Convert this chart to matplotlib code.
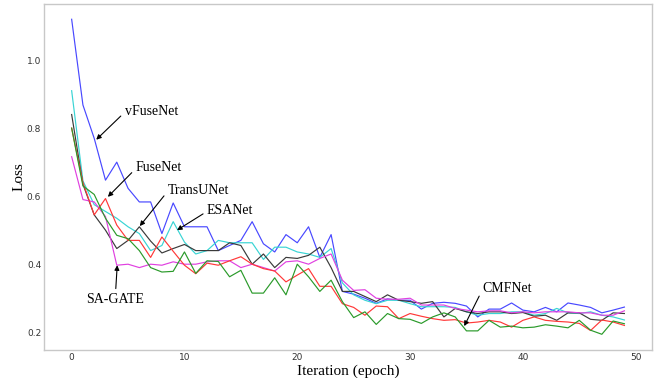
"""Training loss curves for six segmentation networks."""
import numpy as np
import matplotlib
matplotlib.use("Agg")
import matplotlib.pyplot as plt

epochs = np.arange(50)

vfusenet = [1.12, 0.868, 0.77, 0.647, 0.70, 0.623, 0.583, 0.583, 0.49, 0.58,
            0.51, 0.51, 0.51, 0.44, 0.455, 0.47, 0.525, 0.46, 0.436, 0.487,
            0.463, 0.51, 0.42, 0.487, 0.32, 0.312, 0.30, 0.285, 0.298, 0.294,
            0.294, 0.268, 0.285, 0.288, 0.285, 0.277, 0.245, 0.268, 0.268, 0.286,
            0.265, 0.26, 0.273, 0.26, 0.286, 0.28, 0.273, 0.257, 0.265, 0.274]
esanet = [0.91, 0.645, 0.575, 0.555, 0.535, 0.51, 0.49, 0.44, 0.455, 0.525,
          0.465, 0.43, 0.44, 0.47, 0.463, 0.463, 0.463, 0.414, 0.45, 0.45,
          0.436, 0.43, 0.42, 0.446, 0.345, 0.31, 0.294, 0.284, 0.294, 0.294,
          0.284, 0.275, 0.275, 0.275, 0.273, 0.26, 0.25, 0.255, 0.255, 0.26,
          0.26, 0.25, 0.255, 0.27, 0.257, 0.255, 0.26, 0.25, 0.245, 0.236]
transunet = [0.84, 0.635, 0.545, 0.50, 0.446, 0.47, 0.51, 0.468, 0.433, 0.446,
             0.458, 0.44, 0.44, 0.44, 0.463, 0.455, 0.40, 0.43, 0.39, 0.42,
             0.417, 0.426, 0.45, 0.39, 0.32, 0.32, 0.305, 0.29, 0.31, 0.294,
             0.29, 0.285, 0.29, 0.245, 0.27, 0.26, 0.255, 0.26, 0.26, 0.255,
             0.258, 0.247, 0.25, 0.235, 0.257, 0.257, 0.238, 0.235, 0.257, 0.255]
sagate = [0.716, 0.59, 0.583, 0.54, 0.397, 0.40, 0.39, 0.40, 0.397, 0.407,
          0.40, 0.40, 0.407, 0.41, 0.41, 0.39, 0.40, 0.39, 0.38, 0.407,
          0.41, 0.40, 0.417, 0.43, 0.353, 0.323, 0.325, 0.30, 0.297, 0.297,
          0.30, 0.28, 0.28, 0.28, 0.27, 0.265, 0.26, 0.263, 0.263, 0.257,
          0.26, 0.257, 0.26, 0.26, 0.26, 0.257, 0.257, 0.25, 0.25, 0.263]
fusenet = [0.80, 0.64, 0.545, 0.593, 0.515, 0.47, 0.47, 0.42, 0.48, 0.438,
           0.397, 0.372, 0.403, 0.397, 0.41, 0.422, 0.40, 0.387, 0.38, 0.348,
           0.368, 0.387, 0.335, 0.335, 0.284, 0.273, 0.25, 0.277, 0.275, 0.24,
           0.255, 0.247, 0.24, 0.235, 0.237, 0.227, 0.23, 0.235, 0.23, 0.215,
           0.235, 0.245, 0.235, 0.232, 0.23, 0.226, 0.205, 0.236, 0.23, 0.22]
cmfnet = [0.80, 0.63, 0.605, 0.535, 0.485, 0.475, 0.44, 0.39, 0.377, 0.379,
          0.436, 0.373, 0.41, 0.408, 0.363, 0.382, 0.315, 0.315, 0.36, 0.31,
          0.40, 0.363, 0.32, 0.353, 0.29, 0.243, 0.26, 0.223, 0.255, 0.24,
          0.238, 0.226, 0.245, 0.257, 0.245, 0.204, 0.204, 0.235, 0.215, 0.218,
          0.213, 0.215, 0.222, 0.218, 0.213, 0.235, 0.206, 0.194, 0.233, 0.225]

fig = plt.figure(figsize=(6.54, 3.78), dpi=100)
ax = fig.add_axes([0.0673, 0.074, 0.9297, 0.9167])

ax.plot(epochs, vfusenet, color='#4848ff', lw=0.85)
ax.plot(epochs, esanet, color='#38d4d4', lw=0.85)
ax.plot(epochs, transunet, color='#3a3a3a', lw=0.85)
ax.plot(epochs, sagate, color='#e040e0', lw=0.85)
ax.plot(epochs, fusenet, color='#ff3838', lw=0.85)
ax.plot(epochs, cmfnet, color='#2a9a2a', lw=0.85)

ax.set_yticks([0.2, 0.4, 0.6, 0.8, 1.0])
ax.set_xticks([0, 10, 20, 30, 40, 50])
ax.tick_params(length=0, labelsize=6.5, labelcolor='#333333', pad=2)
for s in ax.spines.values():
    s.set_color('#c8c8c8')
    s.set_linewidth(1.0)

serif = 'Liberation Serif'
ax.set_xlabel('Iteration (epoch)', family=serif, fontsize=11, labelpad=2)
ax.set_ylabel('Loss', family=serif, fontsize=11, labelpad=1)

arrow = dict(arrowstyle='-|>', color='black', lw=0.8, mutation_scale=7,
             shrinkA=1, shrinkB=0)
notes = [
    ('vFuseNet', (2.18, 0.766), (4.69, 0.85), 'left', (0, 0.4)),
    ('FuseNet', (3.21, 0.598), (5.66, 0.684), 'left', (0, 0.4)),
    ('TransUNet', (6.04, 0.512), (8.51, 0.618), 'left', (0, 0.4)),
    ('ESANet', (9.34, 0.50), (12.0, 0.559), 'left', (0, 0.4)),
    ('SA-GATE', (4.04, 0.397), (3.89, 0.297), 'center', (0.5, 1.0)),
    ('CMFNet', (34.8, 0.218), (36.43, 0.33), 'left', (0, 0.4)),
]
for txt, xy, xyt, ha, rp in notes:
    a = dict(arrow, relpos=rp)
    ax.annotate(txt, xy=xy, xytext=xyt, ha=ha, va='center', family=serif,
                fontsize=10, arrowprops=a)

plt.savefig('out.png', dpi=100, facecolor='w')
